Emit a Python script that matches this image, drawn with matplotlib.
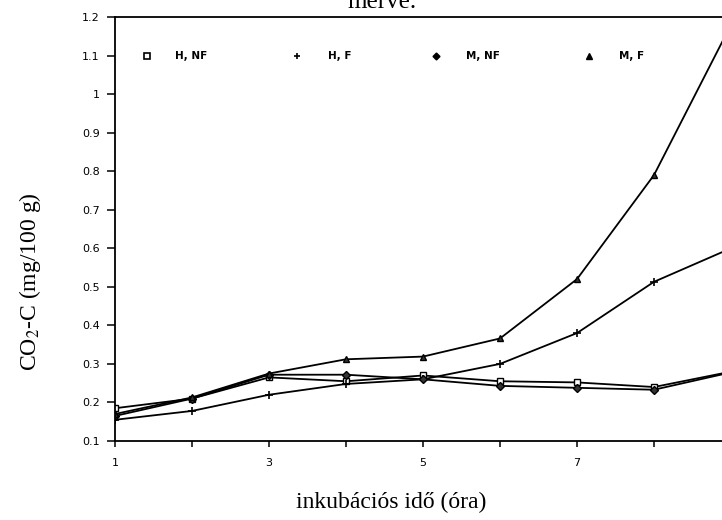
import numpy as np
import matplotlib
matplotlib.use("Agg")
import matplotlib.pyplot as plt

plt.rcParams['mathtext.fontset'] = 'stix'

# data (x = incubation hour)
hours = [1, 2, 3, 4, 5, 6, 7, 8, 9]
h_nf = [0.185, 0.21, 0.265, 0.255, 0.27, 0.255, 0.252, 0.24, 0.28]
h_f = [0.155, 0.178, 0.22, 0.248, 0.26, 0.30, 0.38, 0.513, 0.60]
m_nf = [0.165, 0.21, 0.272, 0.272, 0.26, 0.243, 0.238, 0.233, 0.278]
m_f = [0.17, 0.213, 0.275, 0.312, 0.319, 0.366, 0.52, 0.79, 1.18]

series_names = ["H, NF", "H, F", "M, NF", "M, F"]
yticks = [0.1, 0.2, 0.3, 0.4, 0.5, 0.6, 0.7, 0.8, 0.9, 1.0, 1.1, 1.2]
# the 9 label falls outside the scanned page, so it is left blank
xtick_labels = ["1", "", "3", "", "5", "", "7", "", ""]

fig = plt.figure(figsize=(7.22, 5.2), dpi=100)
ax = fig.add_axes([115/722, 1 - 441/520, 616/722, 424/520])

ax.plot(hours, h_nf, color='black', lw=1.3, marker='s', ms=5, mfc='white', mec='black', mew=1)
ax.plot(hours, h_f, color='black', lw=1.3, marker='+', ms=6, mew=1.2)
ax.plot(hours, m_nf, color='black', lw=1.3, marker='D', ms=4, mfc='#333333', mec='black')
ax.plot(hours, m_f, color='black', lw=1.3, marker='^', ms=5, mfc='#333333', mec='black')

ax.set_xlim(1, 9)
ax.set_ylim(0.1, 1.2)
ax.set_yticks(yticks)
ax.set_yticklabels([f"{v:g}" for v in yticks])
ax.set_xticks(hours)
ax.set_xticklabels(xtick_labels)
ax.tick_params(axis='y', direction='out', length=6, width=1.1, pad=5, labelsize=8)
ax.tick_params(axis='x', direction='out', length=4, width=1.1, pad=8, labelsize=8)
for s in ['left', 'bottom', 'top']:
    ax.spines[s].set_linewidth(1.3)
ax.spines['right'].set_visible(False)

# in-plot legend row
leg_marker_x = [1.42, 3.37, 5.17, 7.15]
leg_text_x = [1.78, 3.77, 5.56, 7.55]
ax.plot(leg_marker_x[0], 1.1, marker='s', ms=4, mfc='white', mec='black', mew=1.2, color='black')
ax.plot(leg_marker_x[1], 1.1, marker='+', ms=5, mew=1.2, color='black')
ax.plot(leg_marker_x[2], 1.1, marker='D', ms=3.5, color='black')
ax.plot(leg_marker_x[3], 1.1, marker='^', ms=4.5, color='black')
for tx, name in zip(leg_text_x, series_names):
    ax.text(tx, 1.1, name, fontsize=7.5, va='center', ha='left', fontweight='semibold')

serif = ['Liberation Serif', 'DejaVu Serif']
fig.text(391/722, 1 - 502/520, "inkubációs idő (óra)", family=serif, fontsize=17,
         ha='center', va='center')
fig.text(30/722, 1 - 282/520, "CO$_2$-C (mg/100 g)", family=serif, fontsize=17,
         rotation=90, ha='center', va='center')
# title is cut by the top edge of the scan
fig.text(382/722, 1 - 8/520, "merve.", family=serif, fontsize=18,
         ha='center', va='baseline')

fig.savefig("out.png", dpi=100)
